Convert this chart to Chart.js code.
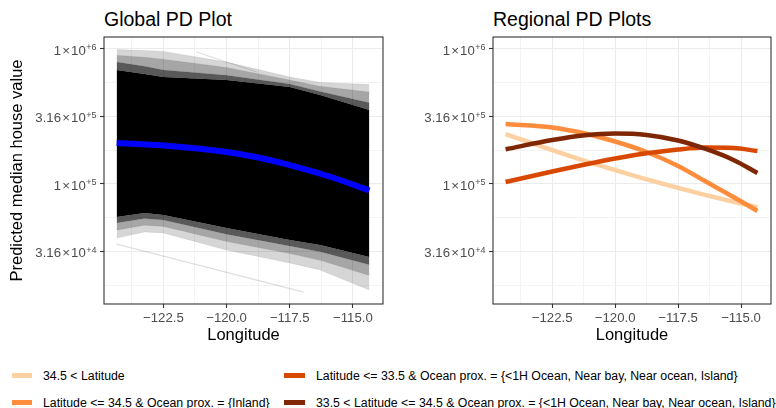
<!DOCTYPE html>
<html lang="en">
<head>
<meta charset="UTF-8">
<title>PD Plots</title>
<script src="https://cdn.jsdelivr.net/npm/chart.js"></script>
<style>
    body { margin: 0; background: #fff; width: 776px; height: 408px; position: relative; overflow: hidden;
           font-family: "Liberation Sans", Arial, sans-serif; }
    canvas { position: absolute; top: 0; }
    .titulo { position: absolute; top: 9px; font-size: 19.5px; line-height: 20px; color: #000; white-space: nowrap; }
    .clave { position: absolute; width: 20px; height: 5px; }
    .texto { position: absolute; font-size: 12.3px; line-height: 16px; color: #000; white-space: nowrap; }
</style>
</head>
<body>
    <div class="titulo" style="left:104px">Global PD Plot</div>
    <div class="titulo" style="left:493px">Regional PD Plots</div>
    <canvas id="global" width="390" height="350" style="left:0px"></canvas>
    <canvas id="regional" width="388" height="350" style="left:388px"></canvas>
    <div id="leyenda"></div>

<script>
    // eje x (longitud) y eje y (log)
    const xMin = -124.85, xMax = -113.81;
    const xTicksMayores = [-122.5, -120.0, -117.5, -115.0];
    const xTicksMenores = [-123.75, -121.25, -118.75, -116.25];
    const yMin = 12915, yMax = 1227000;
    const yTicksMayores = [31622.8, 100000, 316227.8, 1000000];
    const yTicksMenores = [17782.8, 56234.1, 177827.9, 562341.3];
    const yMantisa = ['3.16', '1', '3.16', '1'];
    const yExponente = ['+4', '+5', '+5', '+6'];

    // curvas ICE: banda densa
    const lonBanda = [-124.35, -123.25, -122.5, -120.0, -117.5, -116.3, -114.35];
    const bandaSup3 = [990000, 975000, 960000, 800000, 620000, 565000, 545000];
    const bandaSup2 = [900000, 870000, 840000, 730000, 590000, 530000, 480000];
    const bandaSup1 = [800000, 745000, 700000, 640000, 550000, 485000, 400000];
    const bandaSup0 = [699000, 653000, 620000, 589000, 523000, 456000, 353000];
    const bandaInf0 = [57000, 61000, 58900, 47200, 38500, 35300, 28800];
    const bandaInf1 = [51500, 55500, 54000, 42500, 34800, 31500, 25200];
    const bandaInf2 = [45500, 49500, 48500, 37500, 30500, 27200, 21000];
    const bandaInf3 = [39800, 44100, 43400, 32400, 26000, 23100, 16400];
    const lonAtipica = [-124.35, -116.95];
    const valAtipica = [35900, 15800];
    const lonAtipica2 = [-121.2, -118.8];
    const valAtipica2 = [950000, 675000];

    // PD global
    const lonGlobal = [-124.35, -122.5, -120.0, -118.75, -117.5, -115.8, -114.35];
    const pdGlobal = [201200, 192900, 172600, 157100, 138200, 111700, 89500];

    // PD regionales
    const lonRegional = [-124.35, -122.5, -121.2, -120.0, -118.75, -117.5, -116.4, -115.3, -114.35];
    const pdNorte = [234600, 178000, 148300, 126600, 108300, 93600, 82800, 73800, 67300];
    const pdInterior = [278200, 262100, 236600, 206400, 172600, 135900, 104300, 80100, 63100];
    const pdSur = [103500, 123800, 139500, 154500, 168800, 180100, 186000, 184800, 175500];
    const pdCentro = [180700, 211800, 229900, 236600, 230700, 210000, 181700, 150600, 120600];

    const etiquetas = ['34.5 < Latitude',
        'Latitude <= 34.5 & Ocean prox. = {Inland}',
        'Latitude <= 33.5 & Ocean prox. = {<1H Ocean, Near bay, Near ocean, Island}',
        '33.5 < Latitude <= 34.5 & Ocean prox. = {<1H Ocean, Near bay, Near ocean, Island}'];
    const colores = ['#FDD0A2', '#FD8D3C', '#D94801', '#7F2704'];

    Chart.defaults.font.family = '"Liberation Sans", Arial, sans-serif';

    function puntos(xs, ys) {
        return xs.map((x, i) => ({ x: x, y: ys[i] }));
    }

    const marco = {
        id: 'marco',
        afterDraw(chart) {
            const a = chart.chartArea;
            const ctx = chart.ctx;
            const y = chart.scales.y;
            ctx.save();
            ctx.strokeStyle = '#333333';
            ctx.lineWidth = 1.1;
            ctx.strokeRect(a.left, a.top, a.right - a.left, a.bottom - a.top);
            ctx.fillStyle = '#4D4D4D';
            ctx.textAlign = 'right';
            ctx.textBaseline = 'alphabetic';
            for (let i = 0; i < yTicksMayores.length; i++) {
                const py = y.getPixelForValue(yTicksMayores[i]);
                let xr = a.left - 7.5;
                ctx.font = '9px "Liberation Sans"';
                ctx.fillText(yExponente[i], xr, py + 1.5);
                xr -= ctx.measureText(yExponente[i]).width + 0.5;
                ctx.font = '13.2px "Liberation Sans"';
                ctx.fillText('10', xr, py + 5.8);
                xr -= ctx.measureText('10').width + 1.2;
                ctx.fillText('×', xr, py + 5.8);
                xr -= ctx.measureText('×').width + 1.2;
                ctx.fillText(yMantisa[i], xr, py + 5.8);
            }
            ctx.restore();
        }
    };

    function crearGrafico(id, datasets, anchoY, padDer, tituloY) {
        const esMayorX = v => xTicksMayores.includes(v);
        const esMayorY = v => yTicksMayores.includes(v);
        return new Chart(document.getElementById(id), {
            type: 'line',
            data: { datasets: datasets },
            plugins: [marco],
            options: {
                responsive: false,
                animation: false,
                layout: { padding: { top: 37, right: padDer, left: 0, bottom: 0 } },
                plugins: { legend: { display: false }, tooltip: { enabled: false } },
                elements: { point: { radius: 0 } },
                scales: {
                    x: {
                        type: 'linear', min: xMin, max: xMax,
                        afterBuildTicks: s => { s.ticks = xTicksMenores.concat(xTicksMayores).map(v => ({ value: v })); },
                        afterFit: s => { s.height = 46; },
                        border: { display: false },
                        grid: {
                            color: c => esMayorX(c.tick.value) ? '#EBEBEB' : '#F3F3F3',
                            lineWidth: 1,
                            tickLength: 4,
                            tickColor: c => esMayorX(c.tick.value) ? '#333333' : 'rgba(0,0,0,0)',
                            tickWidth: 1.1
                        },
                        ticks: {
                            color: '#4D4D4D', font: { size: 13.2 }, padding: 2,
                            maxRotation: 0, autoSkip: false,
                            callback: v => esMayorX(v) ? '\u2212' + Math.abs(v).toFixed(1) : ''
                        },
                        title: { display: true, text: 'Longitude', color: '#000', font: { size: 16.5 },
                                 padding: { top: 0, bottom: 5 } }
                    },
                    y: {
                        type: 'logarithmic', min: yMin, max: yMax,
                        afterBuildTicks: s => { s.ticks = yTicksMenores.concat(yTicksMayores).map(v => ({ value: v })); },
                        afterFit: s => { s.width = anchoY; },
                        border: { display: false },
                        grid: {
                            color: c => esMayorY(c.tick.value) ? '#EBEBEB' : '#F3F3F3',
                            lineWidth: 1,
                            tickLength: 4,
                            tickColor: c => esMayorY(c.tick.value) ? '#333333' : 'rgba(0,0,0,0)',
                            tickWidth: 1.1
                        },
                        ticks: { display: false },
                        title: { display: tituloY, text: 'Predicted median house value', color: '#000',
                                 font: { size: 16.5 }, padding: { top: 8, bottom: 0 } }
                    }
                }
            }
        });
    }

    function banda(ys, relleno, fondo) {
        return { data: puntos(lonBanda, ys), borderColor: 'rgba(0,0,0,0.12)', borderWidth: 0.6,
                 tension: 0, fill: relleno, backgroundColor: fondo, order: 2 };
    }

    crearGrafico('global', [
        banda(bandaSup3, '+1', 'rgba(0,0,0,0.16)'),
        banda(bandaSup2, '+1', 'rgba(0,0,0,0.35)'),
        banda(bandaSup1, '+1', 'rgba(0,0,0,0.65)'),
        banda(bandaSup0, '+1', '#000000'),
        banda(bandaInf0, '+1', 'rgba(0,0,0,0.65)'),
        banda(bandaInf1, '+1', 'rgba(0,0,0,0.35)'),
        banda(bandaInf2, '+1', 'rgba(0,0,0,0.16)'),
        banda(bandaInf3, false, 'rgba(0,0,0,0)'),
        { data: puntos(lonAtipica, valAtipica), borderColor: 'rgba(0,0,0,0.13)', borderWidth: 1.2, order: 2 },
        { data: puntos(lonAtipica2, valAtipica2), borderColor: 'rgba(0,0,0,0.13)', borderWidth: 1.2, order: 2 },
        { data: puntos(lonGlobal, pdGlobal), borderColor: '#0000FF', borderWidth: 6,
          cubicInterpolationMode: 'monotone', order: 0 }
    ], 104, 7, true);

    const series = [pdNorte, pdInterior, pdSur, pdCentro];
    crearGrafico('regional', series.map((s, i) => ({
        data: puntos(lonRegional, s), borderColor: colores[i], borderWidth: 4.5,
        cubicInterpolationMode: 'monotone', order: 4 - i
    })), 105, 5, false);

    // leyenda
    const leyenda = document.getElementById('leyenda');
    const posiciones = [[12, 43, 375.5, 367.5], [12, 43, 402, 394.5], [284, 316, 375.5, 367.5], [284, 316, 402, 394.5]];
    etiquetas.forEach((t, i) => {
        const p = posiciones[i];
        const k = document.createElement('div');
        k.className = 'clave';
        k.style.left = p[0] + 'px';
        k.style.top = (p[2] - 2.5) + 'px';
        k.style.background = colores[i];
        if (i >= 2) k.style.width = '21px';
        leyenda.appendChild(k);
        const d = document.createElement('div');
        d.className = 'texto';
        d.style.left = p[1] + 'px';
        d.style.top = p[3] + 'px';
        d.textContent = t;
        leyenda.appendChild(d);
    });
</script>
</body>
</html>
